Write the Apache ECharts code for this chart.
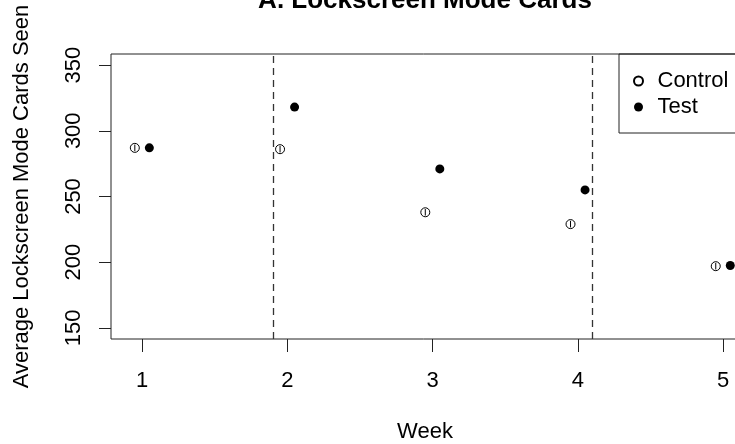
<!DOCTYPE html>
<html>
<head>
<meta charset="utf-8">
<script src="https://cdn.jsdelivr.net/npm/echarts@6/dist/echarts.min.js"></script>
<style>
html,body{margin:0;padding:0;background:#fff;}
#chart{width:735px;height:444px;}
</style>
</head>
<body>
<div id="chart"></div>
<script>
// ---- data ----
var weeks = [1, 2, 3, 4, 5];
var controlMean = [287, 286, 238, 229, 197];
var testMean = [287, 318, 271, 255, 197.5];
var controlErr = [2.5, 2.5, 2.5, 2.5, 2.5];
var testErr = [2.5, 2.5, 2.5, 2.5, 2.5];
var dividers = [1.9, 4.1];
var xTicks = [1, 2, 3, 4, 5];
var yTicks = [150, 200, 250, 300, 350];
var titleText = 'A. Lockscreen Mode Cards';
var xName = 'Week';
var yName = 'Average Lockscreen Mode Cards Seen';

// ---- build ----
var OFF = 0.05;
var FONT = 'Liberation Sans';
var controlData = weeks.map(function (w, i) { return [w - OFF, controlMean[i]]; });
var testData = weeks.map(function (w, i) { return [w + OFF, testMean[i]]; });
var controlErrData = weeks.map(function (w, i) { return [w - OFF, controlMean[i] - controlErr[i], controlMean[i] + controlErr[i]]; });
var testErrData = weeks.map(function (w, i) { return [w + OFF, testMean[i] - testErr[i], testMean[i] + testErr[i]]; });

function errRender(params, api) {
  var p1 = api.coord([api.value(0), api.value(1)]);
  var p2 = api.coord([api.value(0), api.value(2)]);
  return {
    type: 'line',
    shape: { x1: p1[0], y1: p1[1], x2: p2[0], y2: p2[1] },
    style: { stroke: '#000', lineWidth: 1 }
  };
}

var chart = echarts.init(document.getElementById('chart'), null, { renderer: 'canvas' });
chart.setOption({
  animation: false,
  backgroundColor: '#fff',
  textStyle: { fontFamily: FONT },
  title: {
    text: titleText,
    left: 425,
    textAlign: 'center',
    top: -12,
    padding: 0,
    textStyle: { fontFamily: FONT, fontSize: 26, fontWeight: 'bold', color: '#000' }
  },
  legend: {
    data: ['Control', 'Test'],
    orient: 'vertical',
    left: 619,
    top: 54,
    padding: [16, 5, 15, 14],
    itemWidth: 28,
    itemHeight: 9,
    itemGap: 4,
    borderWidth: 0,
    textStyle: { fontFamily: FONT, fontSize: 22, color: '#000', lineHeight: 22 }
  },
  graphic: [{
    type: 'rect',
    silent: true,
    z: 10,
    shape: { x: 619, y: 54, width: 140, height: 79 },
    style: { fill: 'none', stroke: '#222', lineWidth: 1 }
  }],
  grid: {
    left: 111,
    top: 54,
    right: -4,
    bottom: 105,
    outerBoundsMode: 'none',
    containLabel: false,
    show: true,
    borderColor: '#222',
    borderWidth: 1,
    backgroundColor: 'transparent'
  },
  xAxis: {
    type: 'value',
    min: 0.786,
    max: 5.11,
    name: xName,
    nameLocation: 'middle',
    nameGap: 82,
    nameTextStyle: { fontFamily: FONT, fontSize: 22, color: '#000' },
    splitLine: { show: false },
    axisLine: { show: false },
    axisTick: { show: true, length: 13, lineStyle: { color: '#222', width: 1 }, customValues: xTicks },
    axisLabel: { show: true, margin: 31, fontFamily: FONT, fontSize: 22, color: '#000', customValues: xTicks }
  },
  yAxis: {
    type: 'value',
    min: 141.6,
    max: 358.4,
    name: yName,
    nameLocation: 'middle',
    nameGap: 78,
    nameTextStyle: { fontFamily: FONT, fontSize: 22, color: '#000' },
    splitLine: { show: false },
    axisLine: { show: false },
    axisTick: { show: true, length: 12, lineStyle: { color: '#222', width: 1 }, customValues: yTicks },
    axisLabel: { show: true, rotate: 90, margin: 26, fontFamily: FONT, fontSize: 22, color: '#000', customValues: yTicks }
  },
  series: [
    {
      name: 'Control',
      type: 'scatter',
      data: controlData,
      symbol: 'circle',
      symbolSize: 9,
      itemStyle: { color: '#fff', borderColor: '#000', borderWidth: 1, opacity: 1 },
      z: 3
    },
    {
      name: 'Control err',
      type: 'custom',
      data: controlErrData,
      renderItem: errRender,
      encode: { x: 0, y: [1, 2] },
      z: 4,
      silent: true
    },
    {
      name: 'Test',
      type: 'scatter',
      data: testData,
      symbol: 'circle',
      symbolSize: 9,
      itemStyle: { color: '#000', borderColor: '#000', borderWidth: 0, opacity: 1 },
      z: 3,
      markLine: {
        silent: true,
        symbol: ['none', 'none'],
        label: { show: false },
        lineStyle: { type: [7, 5], color: '#333', width: 1.3 },
        data: dividers.map(function (v) { return { xAxis: v }; })
      }
    },
    {
      name: 'Test err',
      type: 'custom',
      data: testErrData,
      renderItem: errRender,
      encode: { x: 0, y: [1, 2] },
      z: 2,
      silent: true
    }
  ]
});
</script>
</body>
</html>
